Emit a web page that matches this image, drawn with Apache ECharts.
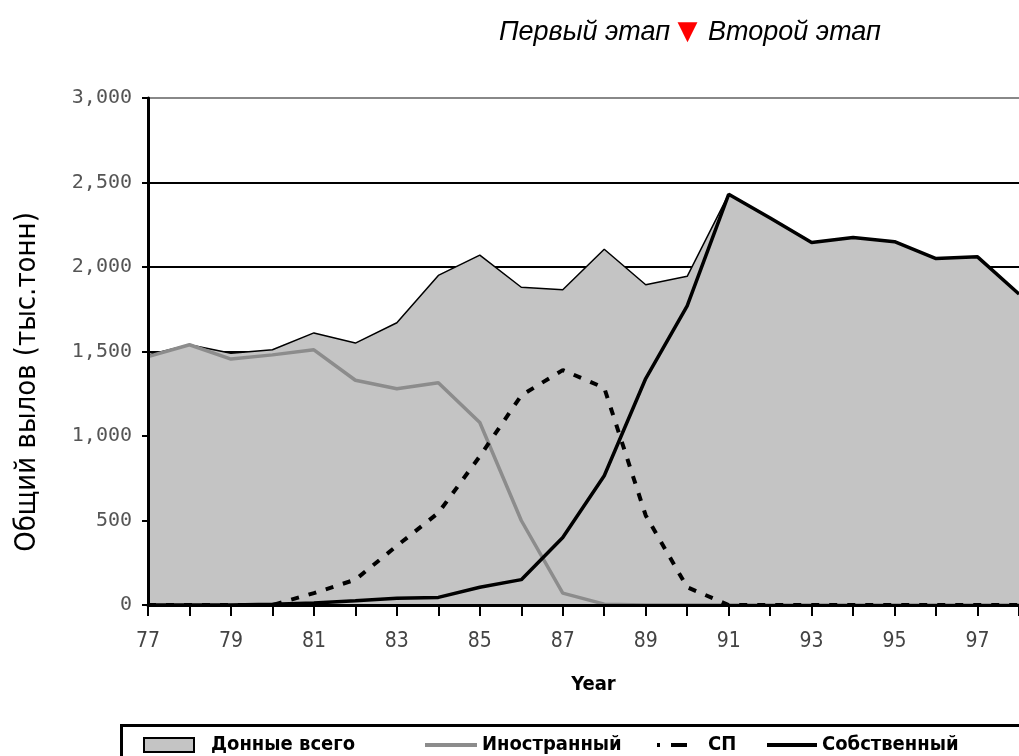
<!DOCTYPE html>
<html>
<head>
<meta charset="utf-8">
<script src="https://cdn.jsdelivr.net/npm/echarts@6/dist/echarts.min.js"></script>
<style>
html,body{margin:0;padding:0;background:#fff;}
#main{width:1019px;height:756px;}
</style>
</head>
<body>
<div id="main"></div>
<script>
// годы (ось X)
var years = ['77','78','79','80','81','82','83','84','85','86','87','88','89','90','91','92','93','94','95','96','97','98'];
// Донные всего
var total = [1480,1540,1490,1510,1610,1550,1670,1950,2070,1880,1865,2105,1895,1945,2430,2290,2145,2175,2150,2050,2060,1840];
// Иностранный
var foreign = [1470,1540,1455,1480,1510,1330,1280,1315,1080,500,70,5,0,0,0,0,0,0,0,0,0,0];
// СП
var jointV = [0,0,0,0,70,150,350,545,880,1240,1390,1285,530,105,0,0,0,0,0,0,0,0];
// Собственный
var own = [0,0,0,5,12,25,40,45,105,150,400,765,1340,1770,2430,2290,2145,2175,2150,2050,2060,1840];

var names = ['Донные всего','Иностранный','СП','Собственный'];
var narrow = '"DejaVu Sans Condensed","Liberation Sans Narrow","Arial Narrow",sans-serif';

var myChart = echarts.init(document.getElementById('main'));

function legendBox(name, left, w, pad, line, extra){
	var o = {
		left: left,
		top: 735,
		itemWidth: w,
		itemHeight: 14,
		padding: 0,
		data: [name],
		itemStyle: {opacity: 0},
		lineStyle: line,
		textStyle: {
			fontFamily: narrow,
			fontWeight: 'bold',
			fontSize: 20,
			color: '#000',
			padding: [0,0,0,pad]
		}
	};
	if(extra){
		o.data = [extra];
		o.itemStyle = {color:'#c4c4c4', borderColor:'#000', borderWidth:2};
	}
	return o;
}

var option = {
	animation: false,
	backgroundColor: '#fff',
	title: {
		text: 'Первый этап {t|▼} Второй этап',
		left: 494,
		top: 14,
		textStyle: {
			fontFamily: '"Liberation Sans",Arial,sans-serif',
			fontStyle: 'italic',
			fontWeight: 'normal',
			fontSize: 27,
			color: '#000',
			rich: {
				t: {color:'#f00', fontSize: 26, fontStyle:'normal', fontFamily:'"DejaVu Sans",sans-serif', padding:[0,3,0,0]}
			}
		}
	},
	legend: [
		legendBox(names[0], 143, 50, 12, {}, {name: names[0], icon: 'rect'}),
		legendBox(names[1], 423, 52, 0, {width: 4, color: '#8c8c8c'}),
		legendBox(names[2], 655, 30, 16, {width: 4, color: '#000', type: [3,11,16,2]}),
		legendBox(names[3], 765, 50, 0, {width: 4, color: '#000'})
	],
	grid: {
		left: 148,
		right: -14,
		top: 98,
		bottom: 151
	},
	xAxis: {
		type: 'category',
		boundaryGap: false,
		data: years,
		z: 5,
		name: 'Year',
		nameLocation: 'middle',
		nameGap: 70,
		nameTextStyle: {
			fontFamily: narrow,
			fontWeight: 'bold',
			fontSize: 20,
			color: '#000',
			padding: [0,0,0,20]
		},
		axisLine: {lineStyle:{color:'#000', width:3}},
		axisTick: {interval: 0, length: 11, lineStyle:{color:'#000', width:2}},
		axisLabel: {
			interval: 1,
			margin: 26,
			fontFamily: narrow,
			fontSize: 21,
			color: '#444'
		},
		splitLine: {show:false}
	},
	yAxis: [
		{
			type: 'value',
			min: 0,
			max: 3000,
			interval: 500,
			z: 5,
			axisLine: {show:true, lineStyle:{color:'#000', width:3}},
			axisTick: {show:true, length: 6, lineStyle:{color:'#000', width:2}},
			axisLabel: {
				margin: 16,
				fontFamily: '"DejaVu Sans Mono",monospace',
				fontSize: 20,
				color: '#555',
				formatter: function(v){ return v.toLocaleString('en-US'); }
			},
			splitLine: {show:false}
		},
		{
			// только сетка, под областью
			type: 'value',
			min: 0,
			max: 3000,
			interval: 500,
			position: 'left',
			z: 0,
			axisLine: {show:false},
			axisTick: {show:false},
			axisLabel: {show:false},
			splitLine: {show:true, lineStyle:{color:['#000','#000','#000','#000','#000','#000','#888'], width:2}}
		}
	],
	graphic: [
		{
			type: 'text',
			x: 27,
			y: 382,
			rotation: Math.PI/2,
			style: {
				text: 'Общий вылов (тыс.тонн)',
				fontFamily: narrow,
				fontSize: 29,
				fill: '#000',
				align: 'center',
				verticalAlign: 'middle',
				textAlign: 'center',
				textVerticalAlign: 'middle'
			}
		},
		{
			type: 'rect',
			shape: {x: 121.5, y: 725.5, width: 1000, height: 80},
			style: {fill: 'none', stroke: '#000', lineWidth: 3}
		}
	],
	series: [
		{
			name: names[0],
			type: 'line',
			data: total,
			symbol: 'none',
			lineStyle: {color:'#000', width:1.5},
			itemStyle: {color:'#c4c4c4'},
			areaStyle: {color:'#c4c4c4', opacity:1}
		},
		{
			name: names[1],
			type: 'line',
			data: foreign,
			symbol: 'none',
			lineStyle: {color:'#8c8c8c', width:3.5},
			itemStyle: {color:'#8c8c8c'}
		},
		{
			name: names[2],
			type: 'line',
			data: jointV,
			symbol: 'none',
			lineStyle: {color:'#000', width:4, type:[8,10]},
			itemStyle: {color:'#000'}
		},
		{
			name: names[3],
			type: 'line',
			data: own,
			symbol: 'none',
			lineStyle: {color:'#000', width:3.5},
			itemStyle: {color:'#000'}
		}
	]
};

myChart.setOption(option);
</script>
</body>
</html>
